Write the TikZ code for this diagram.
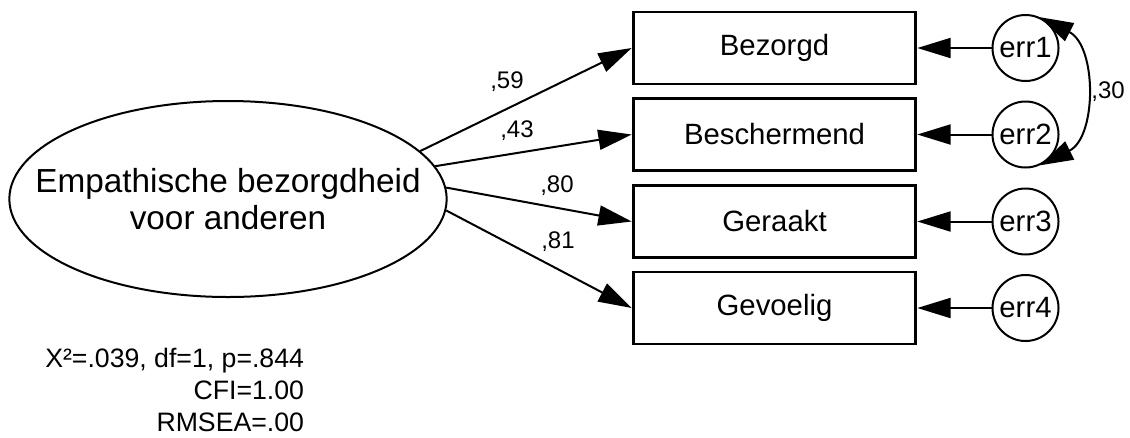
\documentclass[tikz,border=0pt]{standalone}
\usepackage{fontspec}
\setmainfont{Liberation Sans}
\usetikzlibrary{arrows.meta,shapes.geometric}
\begin{document}
\begin{tikzpicture}[x=0.75pt, y=-0.75pt, >={Triangle[length=25pt, width=15pt]}, line width=1.5pt,
    latent/.style={draw, ellipse, minimum width=328pt, minimum height=147pt, inner sep=0pt},
    lattext/.style={align=center, inner sep=0pt, font=\fontsize{25}{28}\selectfont},
    obs/.style={draw, rectangle, line width=2.2pt, minimum width=212pt, minimum height=54pt, inner sep=0pt, font=\fontsize{22}{26}\selectfont},
    errc/.style={draw, circle, minimum size=49.5pt, inner sep=0pt, font=\fontsize{22}{26}\selectfont},
    coef/.style={font=\fontsize{18}{21}\selectfont},
    fitinfo/.style={anchor=base east, inner sep=0pt, font=\fontsize{20}{24}\selectfont}]
    \useasboundingbox (0,0) rectangle (1130,437);
    % latente factor
    \node[latent] (lat) at (228,199) {};
    \node[lattext] (lattxt) at (lat) {Empathische bezorgdheid\\voor anderen};
    % indicatoren en fouttermen
    \foreach \i/\txt/\y in {1/Bezorgd/48, 2/Beschermend/134.5, 3/Geraakt/221.5, 4/Gevoelig/308} {
        \node[obs] (v\i) at (774.5,\y) {\txt};
        \node[errc] (e\i) at (1025.5,\y) {err\i};
        \draw[->] (e\i) -- (v\i);
    }
    \foreach \i/\a in {1/14, 2/9, 3/3, 4/-3.5} \draw[->] (lat.\a) -- (v\i.west);
    \node[coef] (c1) at (507,82) {,59};
    \node[coef] (c2) at (517,131) {,43};
    \node[coef] (c3) at (557,186) {,80};
    \node[coef] (c4) at (558,242) {,81};
    % covariantie err1 - err2
    \draw[<->] (e1.65) .. controls (1097,46) and (1097,137) .. (e2.-65);
    \node[coef] (c12) at (1108,92) {,30};
    % fit
    \node[fitinfo] (fit1) at (305,367) {X²=.039, df=1, p=.844};
    \node[fitinfo] (fit2) at (305,399) {CFI=1.00};
    \node[fitinfo] (fit3) at (305,431) {RMSEA=.00};
\end{tikzpicture}
\end{document}
